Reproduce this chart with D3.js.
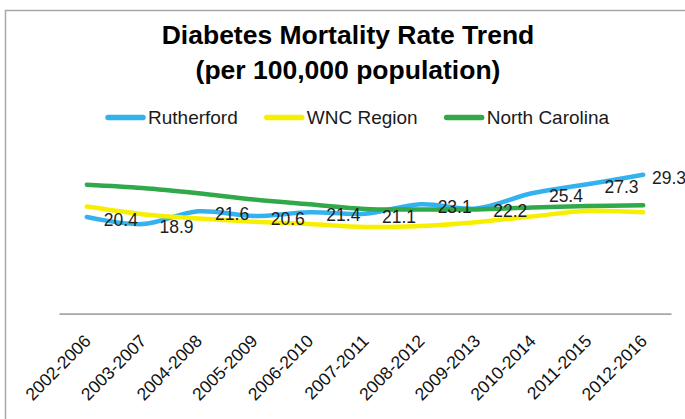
<!DOCTYPE html>
<html>
<head>
<meta charset="utf-8">
<script src="https://cdn.jsdelivr.net/npm/d3@7"></script>
<style>
  body { margin: 0; background: #fff; }
  text { font-family: "Liberation Sans", Arial, sans-serif; }
</style>
</head>
<body>
<script>
// chart values
var periods = ["2002-2006", "2003-2007", "2004-2008", "2005-2009", "2006-2010", "2007-2011",
               "2008-2012", "2009-2013", "2010-2014", "2011-2015", "2012-2016"];
var rutherford = [20.4, 18.9, 21.6, 20.6, 21.4, 21.1, 23.1, 22.2, 25.4, 27.3, 29.3];
var wncRegion = [22.6, 21.0, 20.1, 19.4, 18.9, 18.3, 18.5, 19.3, 20.5, 21.7, 21.4];
var northCarolina = [27.2, 26.5, 25.4, 24.1, 23.1, 22.1, 22.0, 22.0, 22.4, 22.7, 22.9];
var seriesNames = ["Rutherford", "WNC Region", "North Carolina"];
var titleLines = ["Diabetes Mortality Rate Trend", "(per 100,000 population)"];

var svgWidth = 685;
var svgHeight = 419;

var colors = {
    "Rutherford": "#34b2ef",
    "WNC Region": "#f7ef00",
    "North Carolina": "#31a84a"
};

var series = [
    { name: seriesNames[0], values: rutherford },
    { name: seriesNames[1], values: wncRegion },
    { name: seriesNames[2], values: northCarolina }
];

var svg = d3.select("body")
    .append("svg")
    .attr("width", svgWidth)
    .attr("height", svgHeight);

// outer frame (cut off at right / bottom like the screenshot)
svg.append("rect")
    .attr("x", 5.5)
    .attr("y", 10.5)
    .attr("width", 720)
    .attr("height", 500)
    .attr("fill", "#fff")
    .attr("stroke", "#a8a8a8")
    .attr("stroke-width", 1.5);

// title
svg.selectAll(".title")
    .data(titleLines)
    .enter()
    .append("text")
    .attr("class", "title")
    .attr("x", 348)
    .attr("y", (d, i) => 44 + i * 35)
    .attr("text-anchor", "middle")
    .style("font-size", "26.5px")
    .style("font-weight", "bold")
    .style("fill", "#000")
    .text(d => d);

// scales
var xBandScale = d3.scaleBand()
    .domain(periods)
    .range([59, 671])
    .padding(0);

var yLinearScale = d3.scaleLinear()
    .domain([0, 35])
    .range([313.7, 147.8]);

var cx = p => xBandScale(p) + xBandScale.bandwidth() / 2;

// x axis
var bottomAxis = d3.axisBottom(xBandScale).tickSize(0).tickSizeOuter(0);

var axisG = svg.append("g")
    .attr("transform", "translate(0, 313.7)")
    .call(bottomAxis);

axisG.select(".domain")
    .attr("stroke", "#a6a6a6")
    .attr("stroke-width", 1.8);

axisG.selectAll("text")
    .attr("x", 0)
    .attr("y", 0)
    .attr("dy", 0)
    .attr("transform", "translate(5, 28.5) rotate(-45)")
    .style("text-anchor", "end")
    .style("font-size", "17.5px")
    .style("font-family", "'Liberation Sans', Arial, sans-serif")
    .style("fill", "#111");

// lines
var line = d3.line()
    .x((d, i) => cx(periods[i]))
    .y(d => yLinearScale(d))
    .curve(d3.curveCatmullRom.alpha(0.5));

svg.selectAll(".series")
    .data(series)
    .enter()
    .append("path")
    .attr("class", "series")
    .attr("d", d => line(d.values))
    .attr("fill", "none")
    .attr("stroke", d => colors[d.name])
    .attr("stroke-width", 4.5)
    .attr("stroke-linejoin", "round")
    .attr("stroke-linecap", "round");

// data labels for Rutherford
svg.selectAll(".label")
    .data(rutherford)
    .enter()
    .append("text")
    .attr("class", "label")
    .attr("x", (d, i) => Math.min(cx(periods[i]) + 17, 652))
    .attr("y", d => yLinearScale(d) + 9)
    .style("font-size", "17.5px")
    .style("fill", "#1e1e1e")
    .text(d => d.toFixed(1));

// legend
var legend = svg.append("g");
var lx = 106;
seriesNames.forEach(function (name) {
    legend.append("line")
        .attr("x1", lx + 2)
        .attr("x2", lx + 37)
        .attr("y1", 117.5)
        .attr("y2", 117.5)
        .attr("stroke", colors[name])
        .attr("stroke-width", 5.5)
        .attr("stroke-linecap", "round");
    var t = legend.append("text")
        .attr("x", lx + 42)
        .attr("y", 124)
        .style("font-size", "19px")
        .style("fill", "#1a1a1a")
        .text(name);
    lx += 42 + t.node().getComputedTextLength() + 27;
});
</script>
</body>
</html>
